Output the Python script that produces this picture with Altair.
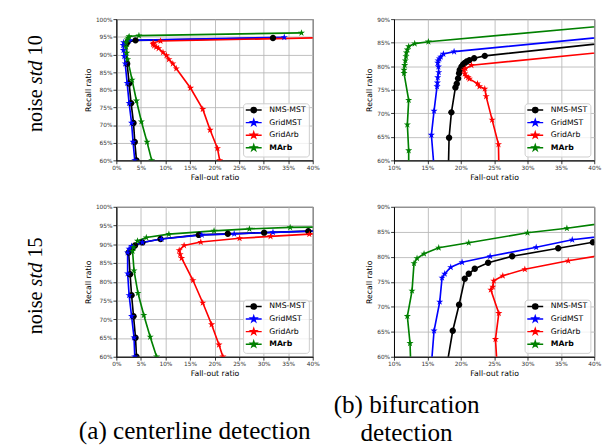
import math
import altair as alt
import pandas as pd

METHODS = ["NMS-MST", "GridMST", "GridArb", "MArb"]
COLORS = ["#000000", "#0000ff", "#ff0000", "#008000"]
X_TICKS_A = [0, 5, 10, 15, 20, 25, 30, 35, 40]
X_TICKS_B = [10, 15, 20, 25, 30, 35, 40]
Y_TICKS_A = [60, 65, 70, 75, 80, 85, 90, 95, 100]
Y_TICKS_B = [60, 65, 70, 75, 80, 85, 90]
ROW_NOISE = ["10", "15"]
CAPTION_A = "(a) centerline detection"
CAPTION_B = ["(b) bifurcation", "detection"]

# ---- noise std 10, centerline detection ----
A10_NMS_X = [4.1, 3.75, 3.5, 3.0, 2.6, 2.2, 2.0, 2.3, 3.9, 31.9]
A10_NMS_Y = [60.0, 65.2, 70.6, 76.2, 81.8, 87.4, 93.0, 93.5, 94.0, 94.65]
A10_GMST_X = [3.75, 3.4, 3.1, 2.6, 2.2, 1.8, 1.6, 1.45, 1.4, 1.5, 2.6, 34.2]
A10_GMST_Y = [60.0, 65.2, 70.6, 76.2, 81.9, 87.4, 89.5, 91.2, 92.6, 93.4, 94.0, 94.85]
A10_GARB_X = [21.05, 20.6, 19.1, 17.6, 15.1, 12.2, 11.5, 10.7, 10.2, 9.5, 8.6, 8.1, 7.7, 7.5, 7.5, 9.0, 45.0]
A10_GARB_Y = [60.0, 63.4, 68.6, 74.5, 80.5, 86.0, 87.4, 88.6, 89.7, 90.6, 91.7, 92.1, 92.5, 92.9, 93.3, 93.8, 94.85]
A10_MARB_X = [7.2, 6.25, 5.1, 4.1, 3.2, 2.3, 2.1, 2.0, 2.0, 2.2, 2.4, 2.6, 4.6, 37.7]
A10_MARB_Y = [60.0, 65.2, 71.0, 76.9, 82.8, 88.6, 90.4, 92.1, 93.4, 94.2, 94.7, 95.1, 95.35, 96.1]

# ---- noise std 10, bifurcation detection ----
B10_NMS_X = [18.1, 18.25, 18.6, 19.2, 19.4, 19.6, 19.75, 19.85, 20.1, 20.35, 20.6, 20.9, 21.3, 22.0, 23.6, 45.0]
B10_NMS_Y = [55.0, 64.8, 70.2, 75.5, 76.3, 77.4, 78.5, 79.2, 79.9, 80.4, 80.7, 81.0, 81.3, 81.7, 82.2, 85.45]
B10_GMST_X = [16.2, 15.6, 16.0, 16.45, 16.5, 16.55, 16.7, 16.65, 16.55, 16.6, 16.8, 17.0, 17.4, 19.0, 45.0]
B10_GMST_Y = [55.0, 65.4, 70.5, 75.7, 76.5, 77.6, 78.7, 79.9, 80.7, 81.2, 81.6, 82.0, 82.6, 83.1, 86.7]
B10_GARB_X = [25.75, 25.65, 24.7, 23.8, 23.6, 22.8, 22.5, 21.3, 21.1, 20.8, 20.6, 20.5, 20.7, 21.6, 45.0]
B10_GARB_Y = [55.0, 63.4, 68.6, 73.6, 75.2, 75.7, 76.3, 77.3, 77.6, 77.9, 78.4, 79.2, 79.5, 80.2, 83.5]
B10_MARB_X = [12.2, 12.2, 12.0, 12.2, 11.5, 11.5, 11.6, 11.7, 11.8, 11.85, 12.0, 12.2, 13.1, 15.15, 45.0]
B10_MARB_Y = [55.0, 62.1, 67.6, 72.8, 78.5, 79.2, 80.2, 81.2, 82.1, 82.9, 83.5, 84.2, 84.8, 85.2, 89.0]

# ---- noise std 15, centerline detection ----
A15_NMS_X = [4.1, 3.9, 3.5, 3.1, 2.8, 2.5, 3.3, 3.8, 5.3, 9.0, 16.8, 22.7, 30.1, 39.1, 45.0]
A15_NMS_Y = [60.0, 65.1, 70.8, 76.4, 82.0, 87.8, 89.0, 89.7, 90.5, 91.4, 92.5, 92.8, 93.1, 93.5, 93.75]
A15_GMST_X = [3.75, 3.6, 3.1, 2.6, 2.3, 2.3, 2.6, 3.1, 5.3, 9.2, 17.4, 24.0, 31.9, 45.0]
A15_GMST_Y = [60.0, 65.1, 70.8, 76.4, 82.2, 87.8, 88.8, 89.5, 90.5, 91.4, 92.5, 92.8, 93.2, 93.7]
A15_GARB_X = [21.7, 20.9, 19.4, 17.6, 15.6, 13.3, 13.0, 12.8, 13.8, 17.2, 25.1, 31.4, 39.3, 45.0]
A15_GARB_Y = [60.0, 63.2, 68.6, 74.4, 80.4, 86.3, 87.3, 88.4, 89.7, 90.6, 91.6, 92.1, 92.7, 93.0]
A15_MARB_X = [8.2, 6.9, 5.6, 4.4, 3.6, 3.3, 3.5, 4.3, 6.1, 10.7, 19.9, 27.1, 35.4, 45.0]
A15_MARB_Y = [60.0, 65.3, 71.1, 77.0, 83.0, 88.2, 89.2, 90.9, 91.8, 92.7, 93.6, 94.1, 94.5, 94.7]

# ---- noise std 15, bifurcation detection ----
B15_NMS_X = [17.5, 18.8, 19.75, 20.6, 21.2, 22.1, 24.1, 27.7, 34.6, 39.8, 45.0]
B15_NMS_Y = [55.0, 65.2, 70.4, 75.6, 76.6, 77.6, 78.8, 80.1, 81.7, 82.9, 83.8]
B15_GMST_X = [15.4, 16.0, 16.85, 17.2, 17.6, 18.5, 20.2, 24.4, 31.3, 36.7, 45.0]
B15_GMST_Y = [55.0, 65.2, 71.0, 75.8, 76.6, 77.9, 78.9, 80.1, 81.9, 83.4, 84.7]
B15_GARB_X = [25.6, 25.2, 25.7, 24.5, 24.8, 24.95, 26.3, 29.6, 36.1, 45.0]
B15_GARB_Y = [55.0, 63.5, 68.7, 73.4, 74.0, 75.2, 76.2, 77.5, 79.2, 81.2]
B15_MARB_X = [12.6, 12.4, 12.0, 12.7, 13.0, 13.45, 14.5, 16.7, 21.2, 30.0, 35.9, 45.0]
B15_MARB_Y = [55.0, 62.7, 68.1, 73.2, 78.7, 79.7, 80.6, 81.8, 82.8, 84.8, 85.7, 87.4]


def star_path(r_out=1.0, r_in=0.382):
    pts = []
    for k in range(10):
        r = r_out if k % 2 == 0 else r_in
        a = math.radians(-90 + 36 * k)
        pts.append(f"{r * math.cos(a):.3f},{r * math.sin(a):.3f}")
    return "M" + "L".join(pts) + "Z"


def circle_path(r):
    return f"M{r},0A{r},{r},0,1,1,{-r},0A{r},{r},0,1,1,{r},0Z"


STAR = star_path()
CIRCLE = circle_path(0.85)
LINE = "M-2.6,0L2.6,0"

SYM_EXPR = "datum.value === 'NMS-MST' ? '" + LINE + CIRCLE + "' : '" + LINE + STAR + "'"
COL_EXPR = "'" + COLORS[-1] + "'"
for m, c in reversed(list(zip(METHODS[:-1], COLORS[:-1]))):
    COL_EXPR = f"datum.value === '{m}' ? '{c}' : (" + COL_EXPR + ")"

LEGEND = alt.Legend(
    title=None, orient="bottom-right", offset=4, padding=3, rowPadding=0,
    labelFont="DejaVu Sans", labelFontSize=8, labelColor="black",
    labelFontWeight=alt.ExprRef(expr="datum.value === 'MArb' ? 'bold' : 'normal'"),
    symbolType=alt.ExprRef(expr=SYM_EXPR), symbolSize=40, symbolStrokeWidth=1.5,
    symbolStrokeColor=alt.ExprRef(expr=COL_EXPR), symbolOffset=4.0, labelOffset=12,
    symbolOpacity=1, strokeColor="#cccccc", fillColor="rgba(255,255,255,0.8)",
    cornerRadius=3,
)


def frame(series):
    rows = []
    for m, (xs, ys) in zip(METHODS, series):
        for i, (x, y) in enumerate(zip(xs, ys)):
            rows.append({"fallout": x, "recall": y, "method": m, "idx": i})
    return pd.DataFrame(rows)


def panel(series, xticks, yticks, w, h):
    df = frame(series)
    xenc = alt.X("fallout:Q",
                 scale=alt.Scale(domain=[xticks[0], xticks[-1]], nice=False, zero=False),
                 axis=alt.Axis(values=xticks, labelExpr="datum.value + '%'", title="Fall-out ratio"))
    yenc = alt.Y("recall:Q",
                 scale=alt.Scale(domain=[yticks[0], yticks[-1]], nice=False, zero=False),
                 axis=alt.Axis(values=yticks, labelExpr="datum.value + '%'", title="Recall ratio"))
    base = alt.Chart(df)
    lines = base.mark_line(strokeWidth=1.7, clip=True).encode(
        x=xenc, y=yenc,
        stroke=alt.Stroke("method:N", scale=alt.Scale(domain=METHODS, range=COLORS), legend=None),
        order="idx:Q",
    )
    pts = base.mark_point(filled=True, opacity=1, size=60, clip=True).encode(
        x=xenc, y=yenc,
        color=alt.Color("method:N", scale=alt.Scale(domain=METHODS, range=COLORS), legend=LEGEND),
        shape=alt.Shape("method:N", scale=alt.Scale(domain=METHODS, range=[CIRCLE, STAR, STAR, STAR]),
                        legend=None),
    )
    return alt.layer(lines, pts).properties(width=w, height=h)


NOVIEW = alt.ViewBackground(stroke="transparent")


def piece(word, x, y, **mk):
    return alt.Chart(pd.DataFrame({"w": [word]})).mark_text(**mk).encode(
        text="w:N", x=alt.value(x), y=alt.value(y))


def row_label(noise, h, ystd):
    common = dict(angle=270, font="Liberation Serif", fontSize=21, baseline="alphabetic", color="black")
    lx = 34
    return alt.layer(
        piece("noise", lx, ystd, align="right", dx=-17.5, **common),
        piece("std", lx, ystd, align="center", fontStyle="italic", **common),
        piece(noise, lx, ystd, align="left", dx=17.5, **common),
    ).properties(width=40, height=h, view=NOVIEW)


def indep(c):
    return c.resolve_scale(color="independent").resolve_legend(color="independent")


pA10 = panel([(A10_NMS_X, A10_NMS_Y), (A10_GMST_X, A10_GMST_Y), (A10_GARB_X, A10_GARB_Y), (A10_MARB_X, A10_MARB_Y)],
             X_TICKS_A, Y_TICKS_A, 203, 146)
pB10 = panel([(B10_NMS_X, B10_NMS_Y), (B10_GMST_X, B10_GMST_Y), (B10_GARB_X, B10_GARB_Y), (B10_MARB_X, B10_MARB_Y)],
             X_TICKS_B, Y_TICKS_B, 207, 146)
pA15 = panel([(A15_NMS_X, A15_NMS_Y), (A15_GMST_X, A15_GMST_Y), (A15_GARB_X, A15_GARB_Y), (A15_MARB_X, A15_MARB_Y)],
             X_TICKS_A, Y_TICKS_A, 203, 155)
pB15 = panel([(B15_NMS_X, B15_NMS_Y), (B15_GMST_X, B15_GMST_Y), (B15_GARB_X, B15_GARB_Y), (B15_MARB_X, B15_MARB_Y)],
             X_TICKS_B, Y_TICKS_B, 207, 155)

row1 = indep(alt.hconcat(row_label(ROW_NOISE[0], 146, 55), indep(alt.hconcat(pA10, pB10, spacing=46)), spacing=36))
row2 = indep(alt.hconcat(row_label(ROW_NOISE[1], 155, 70), indep(alt.hconcat(pA15, pB15, spacing=46)), spacing=36))

cap_common = dict(font="Liberation Serif", fontSize=26, baseline="middle", align="center", color="black")
captions = alt.layer(
    alt.Chart(pd.DataFrame({"k": [0]})).mark_text(**cap_common).encode(
        text=alt.value(CAPTION_A), x=alt.value(192), y=alt.value(50)),
    alt.Chart(pd.DataFrame({"k": [0]})).mark_text(lineHeight=29, **cap_common).encode(
        text=alt.value(CAPTION_B), x=alt.value(411), y=alt.value(23)),
).properties(width=600, height=56, view=NOVIEW)

chart = indep(alt.vconcat(indep(alt.vconcat(row1, row2, spacing=22)), captions, spacing=4, padding=0))

chart = chart.configure(background="white").configure_view(stroke="black", strokeWidth=1).configure_axis(
    labelFont="DejaVu Sans", labelFontSize=6, labelColor="#333333", labelPadding=1,
    labelOverlap=False, labelFlush=False,
    titleFont="DejaVu Sans", titleFontSize=8, titleFontWeight="normal", titleColor="black", titlePadding=3,
    domainColor="black", domainWidth=1, tickColor="black", tickSize=3.5, tickWidth=0.8,
    grid=True, gridColor="#b8b8b8", gridWidth=0.9,
)

chart.save("out.html", embed_options={"renderer": "svg", "actions": False})
